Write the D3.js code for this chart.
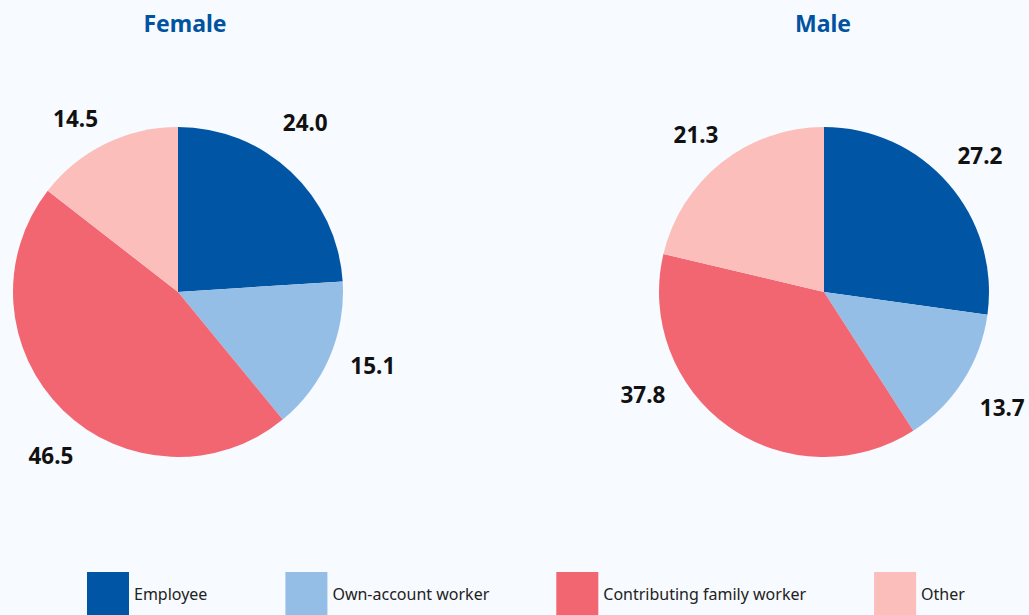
<!DOCTYPE html>
<html>
<head>
<meta charset="utf-8">
<script src="https://cdn.jsdelivr.net/npm/d3@7"></script>
<style>
  html, body { margin: 0; padding: 0; background: #f7fafe; }
  svg { display: block; font-family: "Noto Sans", sans-serif; }
</style>
</head>
<body>
<div class="chart"></div>
<script>
// datos
const panels = ['Female', 'Male'];
const categories = ['Employee', 'Own-account worker', 'Contributing family worker', 'Other'];
const female = [24.0, 15.1, 46.5, 14.5];
const male = [27.2, 13.7, 37.8, 21.3];
const colors = ['#0055a5', '#95bee6', '#f26671', '#fbbebb'];

// pequeños ajustes de posición de las etiquetas (como en el original)
const nudge = {
  'Female-0': [-15, -17], 'Female-1': [4, -9], 'Female-2': [18, 15], 'Female-3': [-11, 14],
  'Male-0': [-1, 0], 'Male-1': [3, 4], 'Male-2': [-61, -67], 'Male-3': [1, 6]
};

const width = 1029;
const height = 615;
const radius = 165;
const labelRadius = 208;
const cy = 292;

const svg = d3.select('.chart')
  .append('svg')
  .attr('width', width)
  .attr('height', height);

// centro de cada tarta
const x = d3.scalePoint()
  .domain(panels)
  .range([178, 824]);

const color = d3.scaleOrdinal()
  .domain(categories)
  .range(colors);

const pie = d3.pie()
  .sort(null)
  .value(d => d.value);

const arc = d3.arc()
  .innerRadius(0)
  .outerRadius(radius);

const labelArc = d3.arc()
  .innerRadius(labelRadius)
  .outerRadius(labelRadius);

const series = { Female: female, Male: male };

panels.forEach(p => {
  const data = categories.map((c, i) => ({ key: c, value: series[p][i], i }));
  const g = svg.append('g')
    .attr('transform', `translate(${x(p)}, ${cy})`);

  g.selectAll('path')
    .data(pie(data))
    .join('path')
    .attr('d', arc)
    .attr('fill', d => color(d.data.key));

  g.selectAll('text.value')
    .data(pie(data))
    .join('text')
    .attr('class', 'value')
    .attr('x', d => labelArc.centroid(d)[0] + nudge[`${p}-${d.data.i}`][0])
    .attr('y', d => labelArc.centroid(d)[1] + nudge[`${p}-${d.data.i}`][1])
    .attr('dy', '0.36em')
    .attr('text-anchor', 'middle')
    .attr('font-size', 22.5)
    .attr('font-weight', 700)
    .attr('fill', '#111')
    .text(d => d3.format('.1f')(d.data.value));

  // título
  svg.append('text')
    .attr('x', x(p) + (p === 'Female' ? 7 : -1))
    .attr('y', 32)
    .attr('text-anchor', 'middle')
    .attr('font-size', 23)
    .attr('font-weight', 700)
    .attr('fill', '#0053a1')
    .text(p);
});

// leyenda
const legend = svg.append('g')
  .attr('class', 'legend');

const gaps = [78, 67, 68, 0];
let lx = 87;
categories.forEach((c, i) => {
  const item = legend.append('g')
    .attr('transform', `translate(${lx}, 572)`);
  item.append('rect')
    .attr('width', 42)
    .attr('height', 44)
    .attr('fill', color(c));
  const t = item.append('text')
    .attr('x', 47)
    .attr('y', 22)
    .attr('dy', '0.36em')
    .attr('font-size', 16)
    .attr('fill', '#222')
    .text(c);
  lx += 47 + t.node().getComputedTextLength() + gaps[i];
});
</script>
</body>
</html>
